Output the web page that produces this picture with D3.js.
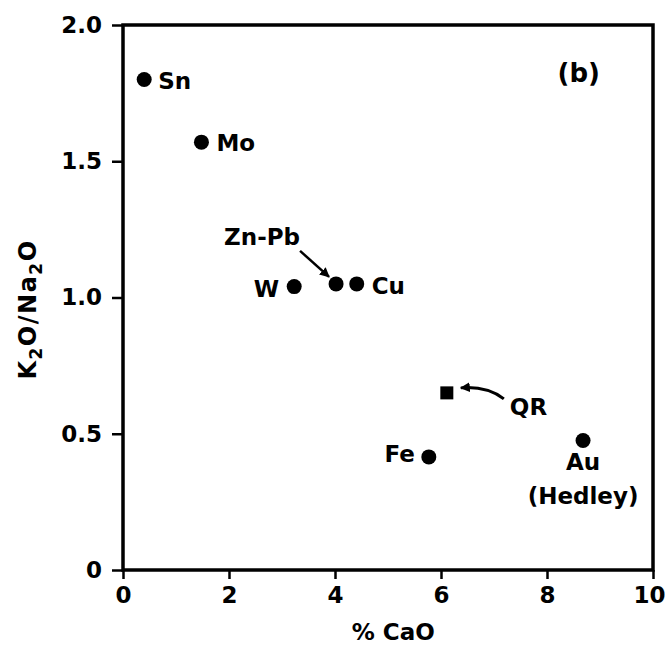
<!DOCTYPE html>
<html>
<head>
<meta charset="utf-8">
<script src="https://cdn.jsdelivr.net/npm/d3@7"></script>
<style>
  body { margin: 0; background: #fff; }
  svg text { font-family: "DejaVu Sans", sans-serif; fill: #000; font-weight: bold; }
</style>
</head>
<body>
<svg class="scatter" width="665" height="649"></svg>
<script>
(function () {

    'use strict';

    // deposit types and values
    var deposits = ['Sn', 'Mo', 'W', 'Zn-Pb', 'Cu', 'QR', 'Fe', 'Au'];
    var cao = [0.40, 1.48, 3.23, 4.02, 4.41, 6.11, 5.77, 8.68];
    var k2oNa2o = [1.80, 1.57, 1.04, 1.05, 1.05, 0.65, 0.415, 0.475];
    var markers = ['circle', 'circle', 'circle', 'circle', 'circle', 'square', 'circle', 'circle'];

    var xTicks = [0, 2, 4, 6, 8, 10];
    var yTicks = [0, 0.5, 1.0, 1.5, 2.0];
    var yTickLabels = ['0', '0.5', '1.0', '1.5', '2.0'];

    var data = deposits.map(function (d, i) {
        return { name: d, x: cao[i], y: k2oNa2o[i], marker: markers[i] };
    });

    // label placement: dx, dy from the point, anchor
    var labelPos = {
        'Sn': [14, 9, 'start'],
        'Mo': [15, 9, 'start'],
        'W': [-15, 10, 'end'],
        'Cu': [15, 10, 'start'],
        'Fe': [-14, 5, 'end'],
        'QR': [63, 22, 'start'],
        'Zn-Pb': [-74, -39, 'middle'],
        'Au': [0, 29, 'middle']
    };

    var svg = d3.select("svg.scatter"),
        margin = { top: 25, right: 12, bottom: 79, left: 123 };
    var width = svg.attr("width") - margin.left - margin.right;
    var height = svg.attr("height") - margin.top - margin.bottom;

    var x = d3.scaleLinear().domain([0, 10]).range([0, width]);
    var y = d3.scaleLinear().domain([0, 2]).range([height, 0]);

    var g = svg.append("g").attr("transform", "translate(" + margin.left + "," + margin.top + ")");

    svg.append("defs").append("marker")
        .attr("id", "arrow")
        .attr("viewBox", "0 0 10 10")
        .attr("refX", 9).attr("refY", 5)
        .attr("markerWidth", 10).attr("markerHeight", 10)
        .attr("markerUnits", "userSpaceOnUse")
        .attr("orient", "auto")
        .append("path")
        .attr("d", "M0,0L10,5L0,10z")
        .attr("fill", "#000");

    // frame
    g.append("rect")
        .attr("width", width)
        .attr("height", height)
        .attr("fill", "none")
        .attr("stroke", "#000")
        .attr("stroke-width", 3.5);

    var xAxis = g.append("g")
        .attr("transform", "translate(0," + height + ")")
        .call(d3.axisBottom(x).tickValues(xTicks).tickSize(9).tickPadding(8).tickFormat(d3.format("d")));
    var yAxis = g.append("g")
        .call(d3.axisLeft(y).tickValues(yTicks).tickSize(11).tickPadding(10)
            .tickFormat(function (d, i) { return yTickLabels[i]; }));

    [xAxis, yAxis].forEach(function (a) {
        a.select(".domain").remove();
        a.selectAll(".tick line").attr("stroke", "#000").attr("stroke-width", 2.5);
        a.selectAll(".tick text")
            .attr("font-size", 23)
            .attr("font-family", "DejaVu Sans, sans-serif")
            .attr("font-weight", "bold")
            .attr("fill", "#000");
    });
    // last x label sits on the page edge
    xAxis.selectAll(".tick text").filter(function (d) { return d === 10; }).attr("dx", -4);

    // points
    var pts = g.append("g").selectAll("g")
        .data(data)
        .enter().append("g")
        .attr("transform", function (d) { return "translate(" + x(d.x) + "," + y(d.y) + ")"; });

    pts.filter(function (d) { return d.marker === 'circle'; })
        .append("circle").attr("r", 7.5).attr("fill", "#000");
    pts.filter(function (d) { return d.marker === 'square'; })
        .append("rect").attr("x", -6.5).attr("y", -6.5).attr("width", 13).attr("height", 13).attr("fill", "#000");

    pts.append("text")
        .attr("x", function (d) { return labelPos[d.name][0]; })
        .attr("y", function (d) { return labelPos[d.name][1]; })
        .attr("text-anchor", function (d) { return labelPos[d.name][2]; })
        .attr("font-size", 23)
        .text(function (d) { return d.name; });

    pts.filter(function (d) { return d.name === 'Au'; })
        .append("text")
        .attr("y", 63)
        .attr("text-anchor", "middle")
        .attr("font-size", 23)
        .text("(Hedley)");

    // arrows
    pts.filter(function (d) { return d.name === 'Zn-Pb'; })
        .append("path")
        .attr("d", "M-36,-33L-7,-7")
        .attr("stroke", "#000").attr("stroke-width", 2.5).attr("fill", "none")
        .attr("marker-end", "url(#arrow)");

    pts.filter(function (d) { return d.name === 'QR'; })
        .append("path")
        .attr("d", "M57,6Q40,-7 14,-5")
        .attr("stroke", "#000").attr("stroke-width", 3).attr("fill", "none")
        .attr("marker-end", "url(#arrow)");

    g.append("text")
        .attr("x", x(8.6))
        .attr("y", 57)
        .attr("text-anchor", "middle")
        .attr("font-size", 26)
        .text("(b)");

    // axis titles
    g.append("text")
        .attr("x", x(5.1))
        .attr("y", height + 70)
        .attr("text-anchor", "middle")
        .attr("font-size", 23)
        .text("% CaO");

    var yt = g.append("text")
        .attr("transform", "translate(-87," + (height / 2 + 12) + ") rotate(-90)")
        .attr("text-anchor", "middle")
        .attr("letter-spacing", 1.5)
        .attr("font-size", 24);
    yt.append("tspan").text("K");
    yt.append("tspan").attr("font-size", 17).attr("dy", 6).text("2");
    yt.append("tspan").attr("dy", -6).text("O/Na");
    yt.append("tspan").attr("font-size", 17).attr("dy", 6).text("2");
    yt.append("tspan").attr("dy", -6).text("O");
})();
</script>
</body>
</html>
